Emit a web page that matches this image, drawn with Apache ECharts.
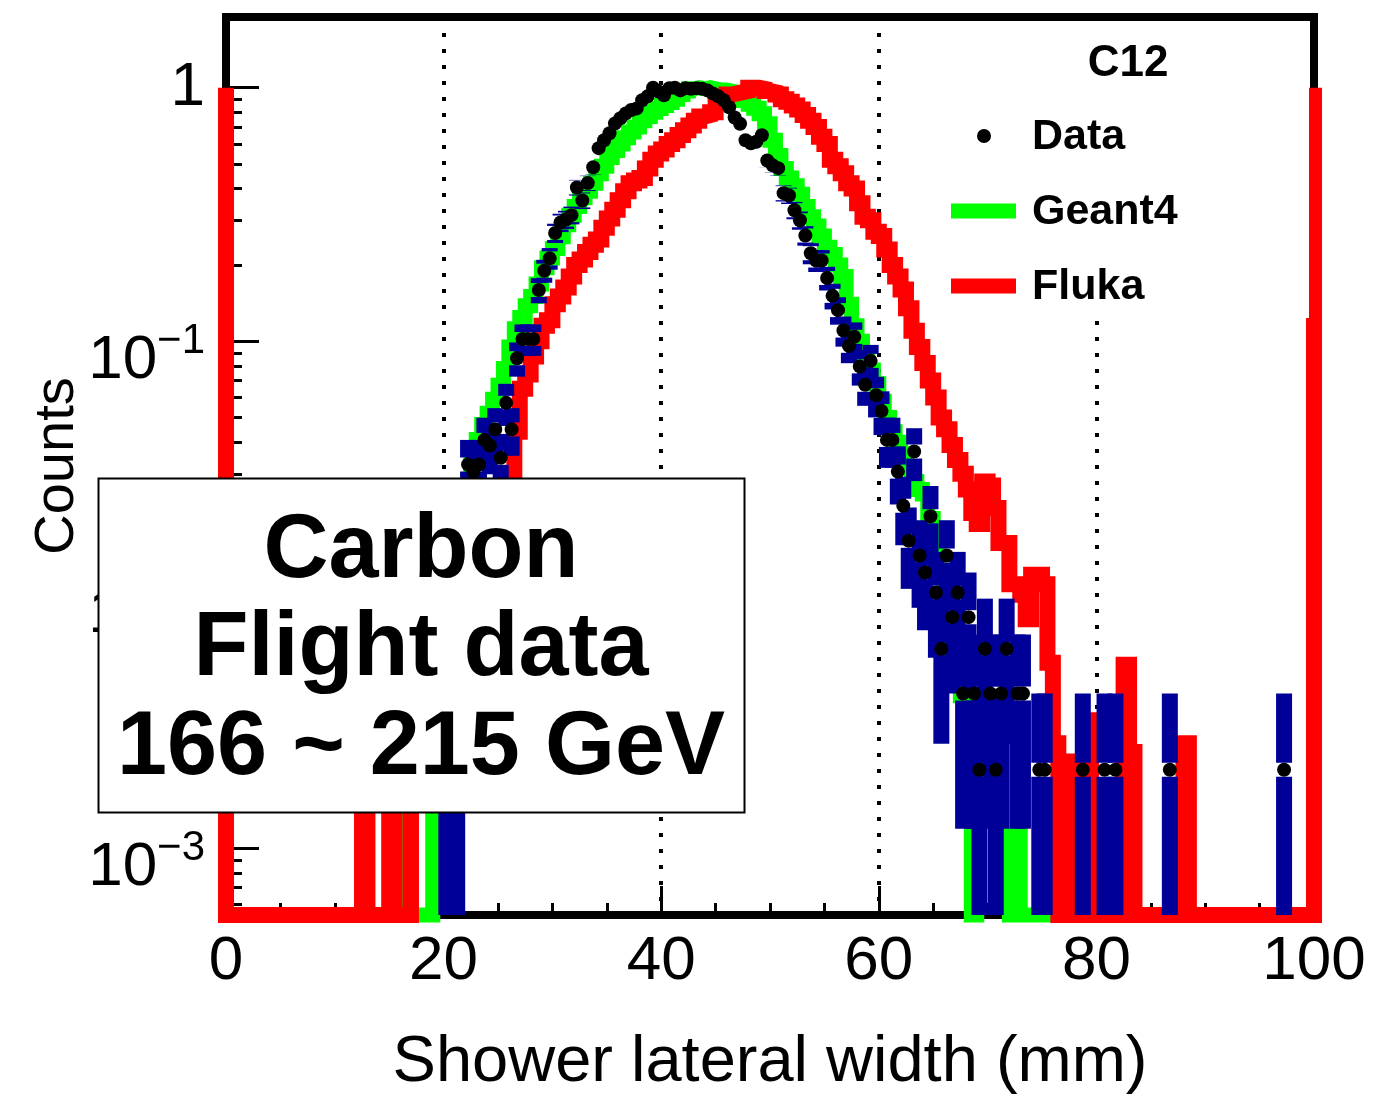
<!DOCTYPE html>
<html>
<head>
<meta charset="utf-8">
<script src="https://cdn.jsdelivr.net/npm/echarts@6/dist/echarts.min.js"></script>
<style>
html,body{margin:0;padding:0;background:#fff;}
#c{width:1374px;height:1098px;}
</style>
</head>
<body>
<div id="c"></div>
<script>
// ---------------- data ----------------
const binStart = 0;          // mm, low edge of first bin
const binWidth = 0.5;        // mm
const xMin = 0, xMax = 100;
const yMin = 5.46e-4, yMax = 1.9;
const xTickStep = 20;
const yMajorTicks = [0.001, 0.01, 0.1, 1];
const yMinorTicks = [6e-4, 7e-4, 8e-4, 9e-4,
  0.002, 0.003, 0.004, 0.005, 0.006, 0.007, 0.008, 0.009,
  0.02, 0.03, 0.04, 0.05, 0.06, 0.07, 0.08, 0.09,
  0.2, 0.3, 0.4, 0.5, 0.6, 0.7, 0.8, 0.9];

// Flight data: raw counts per 0.5 mm bin
const dataCounts = [
  0,0,0,0,0,0,0,0,0,0,            // 0-5
  0,0,0,0,0,0,0,0,0,0,            // 5-10
  0,0,0,0,0,0,0,0,0,0,            // 10-15
  0,0,0,0,0,0,0,0,0,0,            // 15-20
  1,1,1,5,16,15,16,20,19,22,      // 20-25
  17,28,22,42,50,50,50,78,93,104, // 25-30
  131,144,148,154,198,176,206,238,283,304,
  324,354,371,388,400,406,437,453,490,473,
  457,488,490,478,488,485,488,485,478,465,
  453,437,410,374,353,304,296,300,318,253,
  242,236,188,184,161,147,128,109,102,102,
  87,74,65,54,47,51,39,33,41,30,
  26,20,20,15,11,8,18,7,6,10,
  5,3,7,4,5,2,4,2,1,3,
  2,1,2,3,0,2,2,0,0,1,
  1,0,0,0,0,0,0,1,0,0,
  0,1,0,1,0,0,0,0,0,0,
  0,0,0,1,0,0,0,0,0,0,
  0,0,0,0,0,0,0,0,0,0,
  0,0,0,0,1,0,0,0,0,0
];
const countsAtUnity = 490;   // counts that correspond to 1 on the y axis

// Geant4 simulation (normalised)
const geant4 = [
  0,0,0,0,0,0,0,0,0,0,
  0,0,0,0,0,0,0,0,0,0,
  0,0,0,0,0,0,0,0,0,0,
  0,0,0.0016,0,0,0,0,0,0.0015,0.002,
  0.003,0.005,0.009,0.016,0.026,0.035,0.041,0.047,0.052,0.059,
  0.067,0.078,0.095,0.112,0.124,0.138,0.15,0.168,0.195,0.213,
  0.232,0.258,0.288,0.314,0.34,0.368,0.39,0.42,0.458,0.49,
  0.53,0.565,0.6,0.635,0.668,0.7,0.74,0.77,0.8,0.828,
  0.85,0.875,0.9,0.94,0.97,0.99,1.0,0.99,1.0,0.99,
  0.98,0.98,0.97,0.95,0.92,0.89,0.86,0.83,0.79,0.72,
  0.62,0.54,0.48,0.44,0.41,0.38,0.34,0.31,0.285,0.26,
  0.235,0.22,0.2,0.18,0.14,0.115,0.1,0.088,0.077,0.068,
  0.058,0.05,0.044,0.04,0.036,0.032,0.028,0.026,0.025,0.02,
  0.015,0.012,0.009,0.006,0.0045,0.004,0.003,0,0.002,0.003,
  0.002,0.002,0.0015,0.0026,0,0.0015,0,0,0,0,
  0,0,0,0,0.0012,0,0,0,0,0,
  0,0,0,0,0,0,0,0,0,0,
  0,0,0,0,0,0,0,0,0,0,
  0,0,0,0,0,0,0,0,0,0,
  0,0,0,0,0,0,0,0,0,0
];

// Fluka simulation (normalised)
const fluka = [
  0,0,0,0,0,0,0,0,0,0,
  0,0,0,0,0,0,0,0,0,0,
  0,0,0,0,0,0.0016,0,0,0,0,
  0.0016,0,0,0,0.0015,0.0015,0.0016,0.0018,0.0018,0.002,
  0.0022,0.0026,0.003,0.0036,0.0045,0.0058,0.0075,0.0095,0.012,0.0145,
  0.017,0.022,0.03,0.044,0.065,0.074,0.087,0.1,0.115,0.121,
  0.14,0.15,0.163,0.18,0.2,0.21,0.225,0.24,0.252,0.28,
  0.305,0.33,0.36,0.39,0.42,0.43,0.44,0.48,0.52,0.55,
  0.57,0.6,0.62,0.65,0.68,0.71,0.74,0.77,0.78,0.8,
  0.88,0.92,0.94,0.95,0.96,0.97,1.0,1.0,0.99,0.97,
  0.96,0.94,0.9,0.88,0.85,0.82,0.78,0.74,0.7,0.64,
  0.6,0.52,0.49,0.46,0.42,0.4,0.35,0.31,0.3,0.27,
  0.26,0.23,0.2,0.18,0.16,0.135,0.11,0.095,0.082,0.07,
  0.06,0.05,0.045,0.039,0.034,0.03,0.026,0.021,0.019,0.028,
  0.027,0.022,0.016,0.016,0.011,0.011,0.01,0.008,0.012,0.012,
  0.011,0.0054,0.0026,0,0.0022,0,0.0022,0,0.0032,0,
  0,0,0,0,0,0.0053,0.0024,0,0,0,
  0,0,0,0,0,0,0.0026,0,0,0,
  0,0,0,0,0,0,0,0,0,0,
  0,0,0,0,0,0,0,0,0,0
];
const flukaEdgeLevel = 1;    // red outline drawn up the frame edges

const boxLines = ['Carbon', 'Flight data', '166 ~ 215 GeV'];
const legendTitle = 'C12';
const legendNames = ['Data', 'Geant4', 'Fluka'];
const xTitle = 'Shower lateral width (mm)';
const yTitle = 'Counts';

// ---------------- build ----------------
const FONT = "'Liberation Sans', Arial, Helvetica, sans-serif";
const MARKER = 14;                    // data marker diameter (px)
const floorVal = v => (v > 0 ? v : yMin);

function histStep(values) {
  const pts = values.map((v, i) => [binStart + i * binWidth, floorVal(v)]);
  pts.push([binStart + values.length * binWidth, floorVal(values[values.length - 1])]);
  return pts;
}
const geantPts = histStep(geant4);
const flukaPts = [[xMin, flukaEdgeLevel]].concat(histStep(fluka), [[xMax, flukaEdgeLevel]]);

const dots = [], errs = [];
dataCounts.forEach((n, i) => {
  if (n <= 0) return;
  const c = binStart + (i + 0.5) * binWidth;
  const s = Math.sqrt(n);
  dots.push([c, n / countsAtUnity]);
  errs.push([c, Math.max((n - s) / countsAtUnity, yMin), (n + s) / countsAtUnity, n / countsAtUnity]);
});

const chart = echarts.init(document.getElementById('c'), null, {renderer: 'canvas'});

const option = {
  animation: false,
  backgroundColor: '#ffffff',
  grid: {
    left: 226, top: 17, width: 1088, height: 898,
    show: true, borderColor: '#000', borderWidth: 8,
    backgroundColor: 'transparent',
    containLabel: false, outerBoundsMode: 'none'
  },
  xAxis: {
    type: 'value', min: xMin, max: xMax, interval: xTickStep,
    axisLine: {show: false},
    axisTick: {show: true, inside: true, length: 29, lineStyle: {color: '#000', width: 3}},
    minorTick: {show: true, splitNumber: 4, length: 12, lineStyle: {color: '#000', width: 3}},
    axisLabel: {fontSize: 62, color: '#000', fontFamily: FONT, margin: 16},
    splitLine: {show: true, lineStyle: {color: '#000', width: 4, type: [4, 12]}},
    name: xTitle, nameLocation: 'middle', nameGap: 116, nameMoveOverlap: false,
    nameTextStyle: {fontSize: 65, color: '#000', fontFamily: FONT}
  },
  yAxis: [
    {
      type: 'log', logBase: 10, min: yMin, max: yMax,
      axisLine: {show: false},
      axisTick: {show: true, inside: true, length: 33, customValues: yMajorTicks,
                 lineStyle: {color: '#000', width: 3}},
      axisLabel: {
        customValues: yMajorTicks, margin: 21, color: '#000',
        formatter: function (v) {
          const e = Math.round(Math.log10(v));
          return e === 0 ? '{one|1}' : '{b|10}{s|\u2212' + (-e) + '}';
        },
        rich: {
          one: {fontSize: 62, fontFamily: FONT, color: '#000'},
          b: {fontSize: 62, lineHeight: 62, padding: [20, 0, 0, 0], verticalAlign: 'top', fontFamily: FONT, color: '#000'},
          s: {fontSize: 42, lineHeight: 42, padding: [10, 0, 0, 0], verticalAlign: 'top', fontFamily: FONT, color: '#000'}
        }
      },
      splitLine: {show: false},
      name: yTitle, nameLocation: 'middle', nameGap: 140, nameRotate: 90, nameMoveOverlap: false,
      nameTextStyle: {fontSize: 56, color: '#000', fontFamily: FONT}
    },
    {
      type: 'log', logBase: 10, min: yMin, max: yMax, position: 'left',
      axisLine: {show: false},
      axisTick: {show: true, inside: true, length: 16, customValues: yMinorTicks,
                 lineStyle: {color: '#000', width: 3}},
      axisLabel: {show: false},
      splitLine: {show: false}
    }
  ],
  series: [
    {
      type: 'line', name: legendNames[1], data: geantPts, step: 'end',
      symbol: 'none', clip: false, z: 2, silent: true,
      lineStyle: {color: '#00ff00', width: 15, join: 'miter', cap: 'butt'}
    },
    {
      type: 'line', name: legendNames[2], data: flukaPts, step: 'end',
      symbol: 'none', clip: false, z: 3, silent: true,
      lineStyle: {color: '#ff0000', width: 16, join: 'miter', cap: 'butt'}
    },
    {
      // vertical error bars, interrupted where the marker sits
      type: 'custom', name: 'DataErrors', data: errs, z: 4, clip: false, silent: true,
      encode: {x: 0, y: [1, 2]},
      renderItem: function (params, api) {
        const x = api.value(0);
        const top = api.coord([x, api.value(2)]);
        const bot = api.coord([x, api.value(1)]);
        const mid = api.coord([x, api.value(3)]);
        const r = MARKER / 2;
        const kids = [];
        if (mid[1] - r > top[1]) {
          kids.push({type: 'rect', shape: {x: top[0] - 8, y: top[1], width: 16, height: mid[1] - r - top[1]},
                     style: {fill: '#000099'}});
        }
        if (bot[1] > mid[1] + r) {
          kids.push({type: 'rect', shape: {x: top[0] - 8, y: mid[1] + r, width: 16, height: bot[1] - mid[1] - r},
                     style: {fill: '#000099'}});
        }
        return {type: 'group', children: kids};
      }
    },
    {
      type: 'scatter', name: legendNames[0], data: dots, z: 5, silent: true,
      symbol: 'circle', symbolSize: MARKER, itemStyle: {color: '#000', opacity: 1}
    }
  ],
  graphic: {
    elements: [
      // legend
      {type: 'rect', z: 50, shape: {x: 930, y: 24, width: 379, height: 294}, style: {fill: '#fff'}},
      {type: 'text', z: 51, style: {text: legendTitle, x: 1128, y: 64, align: 'center', verticalAlign: 'middle',
        font: 'bold 44px ' + FONT, fill: '#000'}},
      {type: 'circle', z: 51, shape: {cx: 984, cy: 136, r: 7}, style: {fill: '#000'}},
      {type: 'text', z: 51, style: {text: legendNames[0], x: 1032, y: 137, align: 'left', verticalAlign: 'middle',
        font: 'bold 43px ' + FONT, fill: '#000'}},
      {type: 'line', z: 51, shape: {x1: 951, y1: 211, x2: 1016, y2: 211}, style: {stroke: '#00ff00', lineWidth: 15}},
      {type: 'text', z: 51, style: {text: legendNames[1], x: 1032, y: 212, align: 'left', verticalAlign: 'middle',
        font: 'bold 43px ' + FONT, fill: '#000'}},
      {type: 'line', z: 51, shape: {x1: 951, y1: 286, x2: 1016, y2: 286}, style: {stroke: '#ff0000', lineWidth: 15}},
      {type: 'text', z: 51, style: {text: legendNames[2], x: 1032, y: 287, align: 'left', verticalAlign: 'middle',
        font: 'bold 43px ' + FONT, fill: '#000'}},
      // annotation box
      {type: 'rect', z: 60, shape: {x: 98.5, y: 478.5, width: 646, height: 334},
        style: {fill: '#fff', stroke: '#000', lineWidth: 2}},
      {type: 'text', z: 61, style: {text: boxLines[0], x: 421, y: 552, align: 'center', verticalAlign: 'middle',
        font: 'bold 90px ' + FONT, fill: '#000'}},
      {type: 'text', z: 61, style: {text: boxLines[1], x: 421, y: 650, align: 'center', verticalAlign: 'middle',
        font: 'bold 90px ' + FONT, fill: '#000'}},
      {type: 'text', z: 61, style: {text: boxLines[2], x: 421, y: 749, align: 'center', verticalAlign: 'middle',
        font: 'bold 90px ' + FONT, fill: '#000'}}
    ]
  }
};
chart.setOption(option);
</script>
</body>
</html>
